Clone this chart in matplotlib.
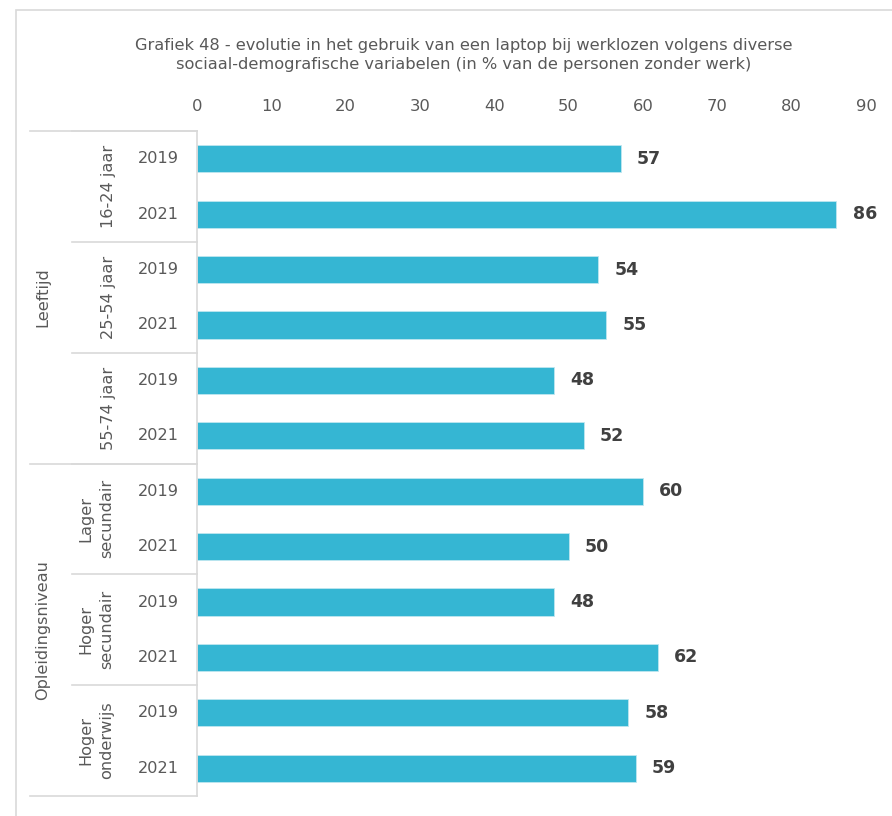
import matplotlib
matplotlib.use("Agg")
import matplotlib.pyplot as plt
from matplotlib.patches import Rectangle

title = ("Grafiek 48 - evolutie in het gebruik van een laptop bij werklozen volgens diverse\n"
         "sociaal-demografische variabelen (in % van de personen zonder werk)")
groups = ["Leeftijd", "Opleidingsniveau"]
subgroups = ["16-24 jaar", "25-54 jaar", "55-74 jaar",
             "Lager\nsecundair", "Hoger\nsecundair", "Hoger\nonderwijs"]
years = ["2019", "2021"] * 6
values = [57, 86, 54, 55, 48, 52, 60, 50, 48, 62, 58, 59]

BAR = "#35b6d3"
TXT = "#595959"
LINE = "#d9d9d9"
W, H = 892, 816

fig = plt.figure(figsize=(W / 100, H / 100), dpi=100)
x0, x1, ytop, ybot = 197, 866, 131, 796
ax = fig.add_axes([x0 / W, 1 - ybot / H, (x1 - x0) / W, (ybot - ytop) / H])

# outer chart frame (cut off at right/bottom in the reference)
fig.patches.append(Rectangle((16 / W, -0.1), 2, 1.1 - 10 / H, transform=fig.transFigure,
                             fill=False, edgecolor=LINE, linewidth=1.2))

pos = list(range(len(values)))
ax.barh(pos, values, height=0.49, color=BAR, edgecolor="#bfe6f0", linewidth=0.6)
for p, v in zip(pos, values):
    ax.text(v + 2.2, p, str(v), va="center", ha="left", fontsize=12.5,
            fontweight="bold", color="#404040")

ax.set_xlim(0, 90)
ax.set_ylim(len(values) - 0.5, -0.5)
ax.set_xticks(range(0, 91, 10))
ax.xaxis.tick_top()
ax.tick_params(axis="x", length=0, pad=12, labelsize=11.8, labelcolor=TXT)
ax.set_yticks([])
for s in ["top", "right", "bottom"]:
    ax.spines[s].set_visible(False)
ax.spines["left"].set_color(LINE)
ax.spines["left"].set_linewidth(1.2)


def ax_x(px):
    return (px - x0) / (x1 - x0)


tr = ax.get_yaxis_transform()
# year labels
for p, yr in zip(pos, years):
    ax.text(ax_x(158), p, yr, transform=tr, ha="center", va="center",
            fontsize=11.6, color=TXT)
# subgroup labels and separators
for k, sg in enumerate(subgroups):
    c = 2 * k + 0.5
    xs = 96 if "\n" in sg else 109
    ax.text(ax_x(xs), c, sg, transform=tr, ha="center", va="center",
            rotation=90, fontsize=11.6, color=TXT, linespacing=1.45)
    ax.plot([ax_x(72), 0], [2 * k - 0.5] * 2, transform=tr, color=LINE,
            lw=1.2, clip_on=False)
# group labels and separators
for g, grp in enumerate(groups):
    c = 6 * g + 2.5
    ax.text(ax_x(43), c, grp, transform=tr, ha="center", va="center",
            rotation=90, fontsize=11.6, color=TXT)
    ax.plot([ax_x(30), 0], [6 * g - 0.5] * 2, transform=tr, color=LINE,
            lw=1.2, clip_on=False)
ax.plot([ax_x(30), 0], [len(values) - 0.5] * 2, transform=tr, color=LINE,
        lw=1.2, clip_on=False)

fig.text(464 / W, 1 - 55 / H, title, ha="center", va="center", fontsize=11.7,
         color=TXT, linespacing=1.35)

fig.savefig("out.png", dpi=100)
